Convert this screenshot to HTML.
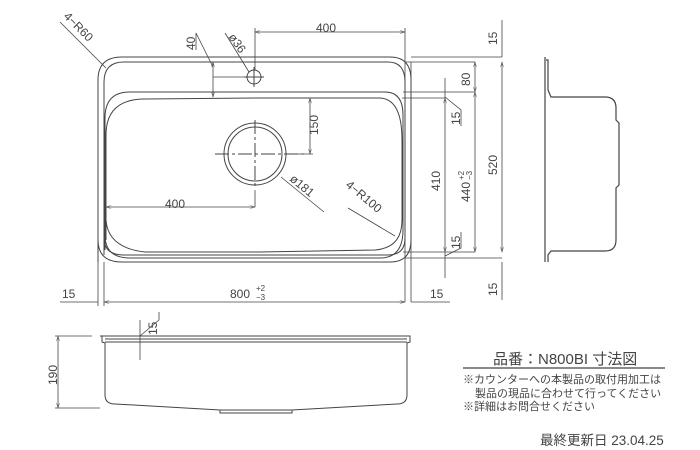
<!DOCTYPE html>
<html><head><meta charset="utf-8"><style>
html,body{margin:0;padding:0;background:#fff;width:700px;height:450px;overflow:hidden}
svg{display:block}
text{font-family:"Liberation Sans","Noto Sans CJK JP",sans-serif;fill:#444}
</style></head><body>
<svg width="700" height="450" viewBox="0 0 700 450" xmlns="http://www.w3.org/2000/svg">
<defs><marker id="a" viewBox="0 0 10 6" refX="10" refY="3" markerWidth="8" markerHeight="4" orient="auto-start-reverse"><path d="M0,0L10,3L0,6" fill="none" stroke="#555" stroke-width="1"/></marker></defs>
<g fill="none" stroke="#444" stroke-width="1">
<path d="M98,262 V80 Q98,57 122,57 H390 Q411,57 411,80 V240 Q411,262 390,262 H122 Q98,262 98,240"/>
<path d="M104,255 V82 Q104,62 124,62 H388 Q405,62 405,82 V238 Q405,255 388,255 H124 Q104,255 104,238"/>
<path d="M105,250 V118 Q105,92 130,92 H385 Q403,92 403,115 V230 Q403,258 380,258 H130 Q105,258 105,235"/>
<path d="M106,240 V135 Q106,99 145,99 L255,98 H380 Q402,99 402,140 V220 Q402,248 375,250 L260,252 H145 Q108,248 106,220"/>
<circle cx="255" cy="154" r="31"/><circle cx="255" cy="154" r="27"/>
<path d="M215,154 H305 M255,120 V189" stroke-dasharray="14,3,3,3"/>
<circle cx="254" cy="77" r="7"/>
<path d="M244,77 H264 M254,67 V87"/>
<path d="M255,32 H405" marker-start="url(#a)" marker-end="url(#a)" stroke-width=".8"/>
<path d="M255,28 V70 M405,28 V302 M411,62 V302 M98,262 V306 M104,262 V306" stroke-width=".8"/>
<path d="M213,62 V97" marker-start="url(#a)" marker-end="url(#a)" stroke-width=".8"/>
<path d="M213,77 H246 M196,33 L213,67 M225,33 L249,72 M196,33 V50" stroke-width=".8"/>
<path d="M310,98 V154" marker-start="url(#a)" marker-end="url(#a)" stroke-width=".8"/>
<path d="M290,154 H313" stroke-width=".8"/>
<path d="M106,207 H255" marker-start="url(#a)" marker-end="url(#a)" stroke-width=".8"/>
<path d="M255,190 V207" stroke-width=".8"/>
<path d="M60,22 L106,68 M324,212 L281,177 M348,208 L395,236" stroke-width=".8"/>
<path d="M60,302 H98 M411,302 H450" stroke-width=".8"/>
<path d="M104,302 H405" marker-start="url(#a)" marker-end="url(#a)" stroke-width=".8"/>
<path d="M411,57 H502 M405,62 H475 M403,92 H475 M402,98 H445 M403,252 H475 M405,258 H502" stroke-width=".8"/>
<path d="M502,62 V252" marker-start="url(#a)" marker-end="url(#a)" stroke-width=".8"/>
<path d="M502,20 V57 M502,262 V300 M445,78 V98 M445,252 V278" stroke-width=".8"/>
<path d="M475,62 V92" marker-start="url(#a)" marker-end="url(#a)" stroke-width=".8"/>
<path d="M475,92 V252" marker-start="url(#a)" marker-end="url(#a)" stroke-width=".8"/>
<path d="M445,98 V252" marker-start="url(#a)" marker-end="url(#a)" stroke-width=".8"/>
<path d="M445,97 L461,110 V126 M445,256 L461,248 V232" stroke-width=".8"/>
<path d="M545,57 V262 M546,60 H548 V90 L551,97 H605 Q616,97 616,108 V120 L619,123 V185 L616,188 V240 Q616,251 605,251 H551 L548,255 V262" stroke-width="1.2"/>
<path d="M100,336 H410 V342 L407,343 V395 Q407,404 397,404 L292,410 H220 L115,404 Q105,404 105,395 V343 L102,342 V336"/>
<path d="M105,342 H407 M105,339 H407"/>
<path d="M220,410 V413 H292 V410"/>
<path d="M55,336 H92 M55,408 H100" stroke-width=".8"/>
<path d="M58,336 V408" marker-start="url(#a)" marker-end="url(#a)" stroke-width=".8"/>
<path d="M140,320 V360 M140,336 L159,320 V312" stroke-width=".8"/>
<path d="M463,368 H665" stroke-width="1.2"/>
</g>
<g font-size="12">
<text x="316" y="32">400</text>
<text transform="translate(195,50) rotate(-90)">40</text>
<text x="165" y="208">400</text>
<text x="230" y="298">800</text><text x="256" y="291" font-size="8">+2</text><text x="256" y="300" font-size="8">−3</text>
<text x="62" y="298">15</text><text x="430" y="298">15</text>
<text transform="translate(318,135) rotate(-90)">150</text>
<text transform="translate(497,45) rotate(-90)">15</text>
<text transform="translate(497,296) rotate(-90)">15</text>
<text transform="translate(497,175) rotate(-90)">520</text>
<text transform="translate(470,86) rotate(-90)">80</text>
<text transform="translate(470,202) rotate(-90)">440</text><text transform="translate(464,180) rotate(-90)" font-size="8">+2</text><text transform="translate(472,180) rotate(-90)" font-size="8">−3</text>
<text transform="translate(440,191) rotate(-90)">410</text>
<text transform="translate(460,125) rotate(-90)">15</text>
<text transform="translate(460,249) rotate(-90)">15</text>
<text transform="translate(157,335) rotate(-90)">15</text>
<text transform="translate(57,385) rotate(-90)">190</text>
<text transform="translate(63,17) rotate(45)">4−R60</text>
<text transform="translate(228,37) rotate(55)">ø36</text>
<text transform="translate(289,180) rotate(40)">ø181</text>
<text transform="translate(345,186) rotate(40)">4−R100</text>
<text x="493" y="364" font-size="15">品番：N800BI 寸法図</text>
<text x="463" y="383" font-size="11">※カウンターへの本製品の取付用加工は</text>
<text x="475" y="397" font-size="11">製品の現品に合わせて行ってください</text>
<text x="463" y="410" font-size="11">※詳細はお問合せください</text>
<text x="540" y="445" font-size="13.5">最終更新日 23.04.25</text>
</g>
</svg>
</body></html>
